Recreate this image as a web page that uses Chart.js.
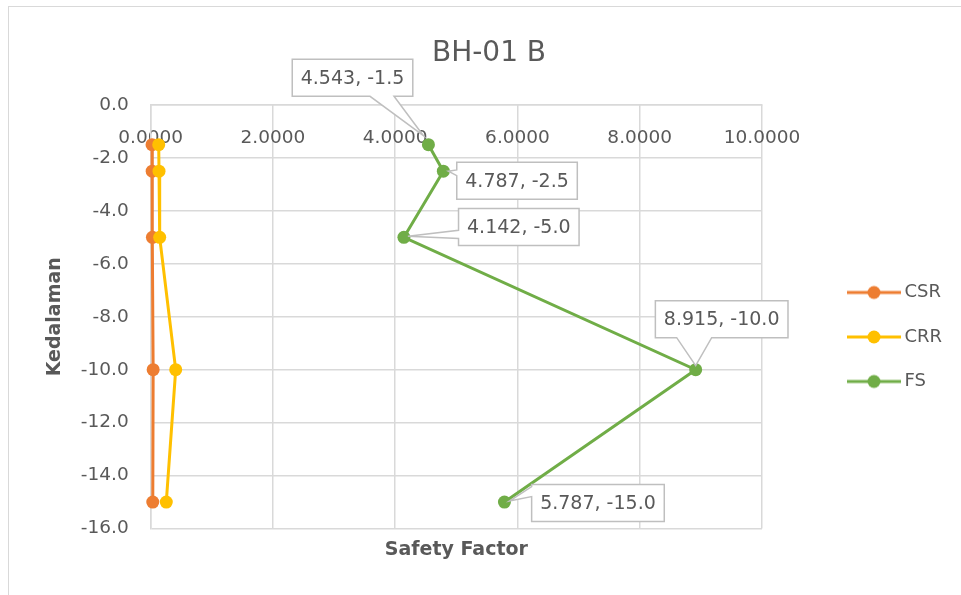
<!DOCTYPE html>
<html>
<head>
<meta charset="utf-8">
<script src="https://cdn.jsdelivr.net/npm/chart.js@4/dist/chart.umd.min.js"></script>
<style>
  html, body { margin: 0; padding: 0; background: #ffffff; }
  #frame { position: absolute; left: 8px; top: 6px; width: 1000px; height: 700px;
           border: 1.5px solid #d9d9d9; box-sizing: border-box; }
  #wrap { position: absolute; left: 0; top: 0; width: 961px; height: 595px; }
</style>
</head>
<body>
<div id="frame"></div>
<div id="wrap"><canvas id="c" width="961" height="595"></canvas></div>
<script>
// Depth of each test (m) and the values computed at that depth
const depths    = [-1.5, -2.5, -5.0, -10.0, -15.0];
const csrValues = [0.022, 0.024, 0.028, 0.040, 0.034];
const crrValues = [0.131, 0.136, 0.147, 0.409, 0.255];
const fsValues  = [4.543, 4.787, 4.142, 8.915, 5.787];

const seriesNames = ['CSR', 'CRR', 'FS'];
const xTickValues = [0, 2, 4, 6, 8, 10];
const yTickValues = [0, -2, -4, -6, -8, -10, -12, -14, -16];

const chartTitle = 'BH-01 B';
const xAxisTitle = 'Safety Factor';
const yAxisTitle = 'Kedalaman';

// ---- styling / layout ----
const FAMILY = "'DejaVu Sans', sans-serif";
const TEXT = '#595959';
const GRID = '#d9d9d9';
const COLORS = ['#ED7D31', '#FFC000', '#70AD47'];

const W = 961, H = 595;
const PLOT_LEFT = 150.7, PLOT_RIGHT = 762, PLOT_TOP = 105, PLOT_BOTTOM = 528.5;
const TITLE_CENTER_X = 489;

const LEGEND_FONT = 18, LEGEND_PAD = 26.5, LEGEND_BOX = 107;

// legend width depends on the widest series name
const measureCtx = document.createElement('canvas').getContext('2d');
measureCtx.font = LEGEND_FONT + 'px ' + FAMILY;
const maxNameW = Math.max(...seriesNames.map(n => measureCtx.measureText(n).width));
const legendW = LEGEND_PAD + LEGEND_BOX + LEGEND_FONT / 2 + maxNameW + 10;
const padRight = W - PLOT_RIGHT - legendW;
const padLeft = 2 * TITLE_CENTER_X - W + padRight;

// legend glyph: short line with a round marker
function legendGlyph(color) {
  const c = document.createElement('canvas');
  c.width = 118; c.height = 20;
  const g = c.getContext('2d');
  g.strokeStyle = color; g.lineWidth = 3;
  g.beginPath(); g.moveTo(64, 10); g.lineTo(118, 10); g.stroke();
  g.fillStyle = color;
  g.beginPath(); g.arc(91, 10, 6.5, 0, Math.PI * 2); g.fill();
  return c;
}

function series(xs) {
  return depths.map((d, i) => ({ x: xs[i], y: d }));
}

// value callouts for the FS series
const calloutPlugin = {
  id: 'valueCallouts',
  afterDatasetsDraw(chart, args, opts) {
    const meta = chart.getDatasetMeta(opts.datasetIndex);
    const ds = chart.data.datasets[opts.datasetIndex];
    const ctx = chart.ctx;
    ctx.save();
    ctx.font = opts.fontSize + 'px ' + FAMILY;
    meta.data.forEach((pt, i) => {
      const p = opts.placement[i];
      const raw = ds.data[i];
      const text = raw.x.toFixed(3) + ', ' + raw.y.toFixed(1);
      const w = ctx.measureText(text).width + 2 * opts.padX;
      const h = opts.height;
      const cx = pt.x + p.dx, cy = pt.y + p.dy;
      const L = cx - w / 2, T = cy - h / 2, R = cx + w / 2, B = cy + h / 2;
      const tx = pt.x + p.tip[0], ty = pt.y + p.tip[1];
      ctx.beginPath();
      ctx.moveTo(L, T);
      ctx.lineTo(R, T);
      ctx.lineTo(R, B);
      if (p.side === 'bottom') {
        ctx.lineTo(cx + p.base[1], B);
        ctx.lineTo(tx, ty);
        ctx.lineTo(cx + p.base[0], B);
      }
      ctx.lineTo(L, B);
      if (p.side === 'left') {
        ctx.lineTo(L, cy + p.base[1]);
        ctx.lineTo(tx, ty);
        ctx.lineTo(L, cy + p.base[0]);
      }
      ctx.closePath();
      ctx.fillStyle = '#ffffff';
      ctx.fill();
      ctx.strokeStyle = '#bfbfbf';
      ctx.lineWidth = 1.5;
      ctx.lineJoin = 'miter';
      ctx.stroke();
      ctx.fillStyle = TEXT;
      ctx.textAlign = 'center';
      ctx.textBaseline = 'middle';
      ctx.fillText(text, cx, cy + 1);
    });
    ctx.restore();
  }
};

const seriesValues = [csrValues, crrValues, fsValues];

new Chart(document.getElementById('c'), {
  type: 'scatter',
  data: {
    datasets: seriesNames.map((name, i) => ({
      label: name,
      data: series(seriesValues[i]),
      showLine: true,
      clip: false,
      borderColor: COLORS[i],
      backgroundColor: COLORS[i],
      borderWidth: 3,
      pointRadius: 6.5,
      pointBorderWidth: 0,
      pointBackgroundColor: COLORS[i],
      order: seriesNames.length - 1 - i
    }))
  },
  options: {
    responsive: false,
    animation: false,
    devicePixelRatio: 1,
    layout: { padding: { left: padLeft, right: padRight, top: 0, bottom: 0 } },
    scales: {
      x: {
        type: 'linear',
        position: { y: 0 },
        min: 0, max: 10,
        afterBuildTicks: s => { s.ticks = xTickValues.map(v => ({ value: v })); },
        ticks: {
          callback: v => Number(v).toFixed(4),
          color: TEXT, font: { family: FAMILY, size: 18.5 },
          padding: 22, maxRotation: 0, autoSkip: false
        },
        grid: { color: GRID, lineWidth: 1.5, drawTicks: false },
        border: { color: GRID, width: 1.5 }
      },
      xt: {
        type: 'linear',
        axis: 'x',
        position: 'bottom',
        min: 0, max: 10,
        ticks: { display: false },
        grid: { display: false, drawTicks: false },
        border: { display: false },
        title: {
          display: true, text: xAxisTitle, color: TEXT,
          font: { family: FAMILY, size: 19, weight: 'bold' },
          padding: { top: 0, bottom: 33.6 }
        },
        afterFit: s => { s.height = H - PLOT_BOTTOM; }
      },
      y: {
        type: 'linear',
        position: 'left',
        min: -16, max: 0,
        afterBuildTicks: s => { s.ticks = yTickValues.map(v => ({ value: v })); },
        ticks: {
          callback: v => Number(v).toFixed(1),
          color: TEXT, font: { family: FAMILY, size: 18.5 },
          padding: 22, autoSkip: false
        },
        grid: { color: GRID, lineWidth: 1.5, drawTicks: false },
        border: { color: GRID, width: 1.5 },
        title: {
          display: true, text: yAxisTitle, color: TEXT,
          font: { family: FAMILY, size: 19, weight: 'bold' },
          padding: { top: 55 - padLeft - 11.4, bottom: 0 }
        },
        afterFit: s => { s.width = PLOT_LEFT - padLeft; }
      }
    },
    plugins: {
      title: {
        display: true, text: chartTitle, color: TEXT,
        font: { family: FAMILY, size: 28, weight: 'normal' },
        padding: { top: 37.2, bottom: 34.2 }
      },
      legend: {
        position: 'right',
        align: 'center',
        fullSize: false,
        title: { display: true, text: ' ', font: { size: 10, lineHeight: 1 }, padding: { top: 30.5, bottom: 0 } },
        labels: {
          usePointStyle: true,
          pointStyleWidth: LEGEND_BOX,
          padding: LEGEND_PAD,
          color: TEXT,
          font: { family: FAMILY, size: LEGEND_FONT },
          generateLabels: chart => chart.data.datasets.map((ds, i) => ({
            text: ds.label,
            pointStyle: legendGlyph(ds.borderColor),
            fillStyle: ds.borderColor,
            strokeStyle: ds.borderColor,
            lineWidth: 0,
            fontColor: TEXT,
            hidden: false,
            datasetIndex: i
          }))
        }
      },
      tooltip: { enabled: false },
      valueCallouts: {
        datasetIndex: 2,
        fontSize: 19,
        padX: 8.5,
        height: 37,
        placement: [
          { dx: -75.9, dy: -66.9, side: 'bottom', base: [17.5, 41.5], tip: [-5, -9] },
          { dx: 73.7, dy: 9.6, side: 'left', base: [-10.8, -5.1], tip: [5, 0] },
          { dx: 114.9, dy: -10.4, side: 'left', base: [3.3, 11.6], tip: [4, -1] },
          { dx: 26, dy: -50.5, side: 'bottom', base: [-45, -10], tip: [0, -4] },
          { dx: 93.5, dy: 0.9, side: 'left', base: [-16.3, -6.3], tip: [5, -1] }
        ]
      }
    }
  },
  plugins: [calloutPlugin]
});
</script>
</body>
</html>
